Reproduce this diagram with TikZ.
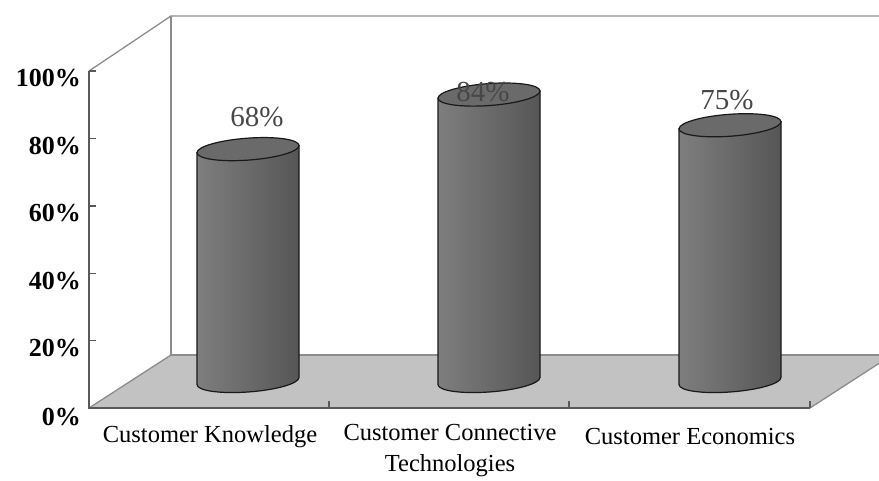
\documentclass[tikz,border=0pt]{standalone}
\usepackage{fontspec}
\setmainfont{Liberation Serif}
\definecolor{floorgray}{HTML}{C2C2C2}
\definecolor{wallline}{HTML}{8C8C8C}
\definecolor{cylL}{HTML}{7E7E7E}
\definecolor{cylM}{HTML}{767676}
\definecolor{cylR}{HTML}{565656}
\definecolor{cylT}{HTML}{6A6A6A}
\begin{document}
\begin{tikzpicture}[x=1pt,y=-1pt]
\tikzset{
  wall/.style={draw=wallline, line width=1.3pt},
  frontaxis/.style={draw=black!65, line width=1.4pt},
  ylab/.style={anchor=east, inner sep=0pt, font=\bfseries\fontsize{26}{26}\selectfont},
  catlab/.style={anchor=center, inner sep=0pt, align=center, font=\fontsize{24.5}{31}\selectfont},
  vallab/.style={anchor=center, inner sep=0pt, text=black!72, font=\fontsize{29}{29}\selectfont},
  cylbody/.style={draw=black!90, line width=1.2pt, left color=cylL, middle color=cylM, right color=cylR},
  cyltop/.style={draw=black!90, line width=1.2pt, fill=cylT},
}
\useasboundingbox (0,0) rectangle (879,480);
\clip (0,0) rectangle (879,480);
% floor
\fill[floorgray] (89,408) -- (171,355) -- (892,355) -- (810,408) -- cycle;
% walls
\draw[wall] (89,71) -- (171,16) -- (900,16);
\draw[wall] (171,16) -- (171,355) -- (900,355);
\draw[wall] (89,408) -- (171,355);
\draw[wall] (810,408) -- (892,355);
% front axes
\draw[frontaxis] (89,71) -- (89,408) -- (810,408);
\foreach \yy in {71,138.4,205.8,273.2,340.6}{\draw[frontaxis] (89,\yy) -- (96,\yy);}
\foreach \xx in {329,569,810}{\draw[frontaxis] (\xx,408) -- (\xx,401);}
% y labels
\node[ylab] (y100) at (81,78) {100\%};
\node[ylab] (y80) at (81,146) {80\%};
\node[ylab] (y60) at (81,213) {60\%};
\node[ylab] (y40) at (81,281) {40\%};
\node[ylab] (y20) at (81,348) {20\%};
\node[ylab] (y0) at (81,417) {0\%};
% cylinders
\foreach \cx/\v in {248/68,489/84,730/75}{
  \pgfmathsetmacro\hh{\v*3.41}
  \begin{scope}[shift={(\cx,381)}]
  \begin{scope}[yslant=0.07]
    \path[cylbody] (-51,-\hh) -- (-51,0) arc[start angle=180,end angle=0,x radius=51,y radius=11] -- (51,-\hh) -- cycle;
    \path[cyltop] (0,-\hh) ellipse [x radius=51,y radius=11];
  \end{scope}
  \end{scope}
}
% value labels
\node[vallab] (v1) at (257,117) {68\%};
\node[vallab] (v2) at (483,92) {84\%};
\node[vallab] (v3) at (727,100) {75\%};
% category labels
\node[catlab] (c1) at (210,437) {Customer Knowledge};
\node[catlab] (c2) at (450,451) {Customer Connective\\Technologies};
\node[catlab] (c3) at (690,437) {Customer Economics};
\end{tikzpicture}
\end{document}
